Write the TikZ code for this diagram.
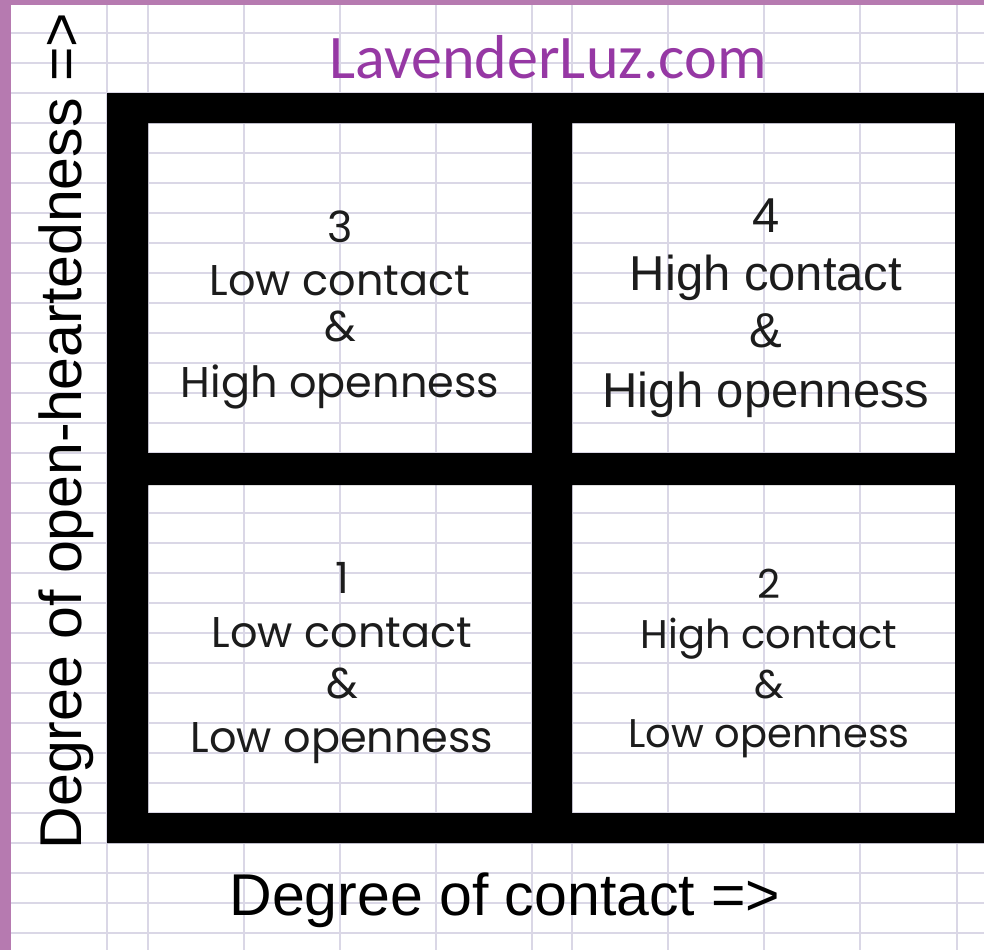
\documentclass[tikz,border=0pt]{standalone}
\usepackage{fontspec}
\setmainfont{Liberation Sans}
\newfontfamily\qfont{Poppins}
\newfontfamily\afont{Liberation Sans}
\newfontfamily\tfont{Carlito}
\definecolor{mauve}{RGB}{182,122,176}
\definecolor{gridc}{RGB}{218,215,230}
\definecolor{titlec}{RGB}{150,56,164}
\definecolor{inkc}{RGB}{28,28,28}
\begin{document}
\begin{tikzpicture}[x=1pt,y=-1pt,
  gridline/.style={draw=gridc,line width=1.5pt},
  framefill/.style={fill=black,even odd rule},
  qtext/.style={anchor=base,inner sep=0pt,text=inkc,font=\qfont\fontsize{43}{50}\selectfont},
  qsmall/.style={qtext,font=\qfont\fontsize{40}{48}\selectfont},
  atext/.style={anchor=base,inner sep=0pt,text=inkc,font=\afont\fontsize{49}{56}\selectfont},
  axislabel/.style={anchor=base,inner sep=0pt,text=black,font=\afont\fontsize{59}{68}\selectfont},
  titletext/.style={anchor=base,inner sep=0pt,text=titlec,font=\tfont\fontsize{62}{72}\selectfont}]
\useasboundingbox (0,0) rectangle (984,950);
\fill[white] (0,0) rectangle (984,950);
% grid
\foreach \yy in {3,33,...,933} \draw[gridline] (11,\yy) -- (984,\yy);
\foreach \xx in {107,148,244,340,436,532,572,668,764,860,957} \draw[gridline] (\xx,5) -- (\xx,950);
% purple edges
\fill[mauve] (0,0) rectangle (984,5);
\fill[mauve] (0,0) rectangle (11,950);
% black frame with four windows
\coordinate (q3nw) at (148,123); \coordinate (q3se) at (532,453);
\coordinate (q4nw) at (572,123); \coordinate (q4se) at (955,453);
\coordinate (q1nw) at (148,485); \coordinate (q1se) at (532,813);
\coordinate (q2nw) at (572,485); \coordinate (q2se) at (955,813);
\fill[framefill] (107,93) rectangle (984,843)
  (q3nw) rectangle (q3se) (q4nw) rectangle (q4se)
  (q1nw) rectangle (q1se) (q2nw) rectangle (q2se);
% title
\node[titletext] (title) at (548,78) {LavenderLuz.com};
% quadrant 3
\node[qtext] (q3a) at (340,242) {3};
\node[qtext] (q3b) at (340,295) {Low contact};
\node[qtext] (q3c) at (340,341) {\&};
\node[qtext] (q3d) at (340,397) {High openness};
% quadrant 4
\node[atext] (q4a) at (766,232) {4};
\node[atext] (q4b) at (766,290) {High contact};
\node[atext] (q4c) at (766,347) {\&};
\node[atext] (q4d) at (766,407) {High openness};
% quadrant 1
\node[qtext] (q1a) at (342,593) {1};
\node[qtext] (q1b) at (342,647) {Low contact};
\node[qtext] (q1c) at (342,698) {\&};
\node[qtext] (q1d) at (342,752) {Low openness};
% quadrant 2
\node[qsmall] (q2a) at (769,598) {2};
\node[qsmall] (q2b) at (769,648) {High contact};
\node[qsmall] (q2c) at (769,698) {\&};
\node[qsmall] (q2d) at (769,747) {Low openness};
% axis labels
\node[axislabel] (xlab) at (505,915) {Degree of contact =>};
\node[axislabel,rotate=90] (ylab) at (81,431) {Degree of open-heartedness =>};
\end{tikzpicture}
\end{document}
